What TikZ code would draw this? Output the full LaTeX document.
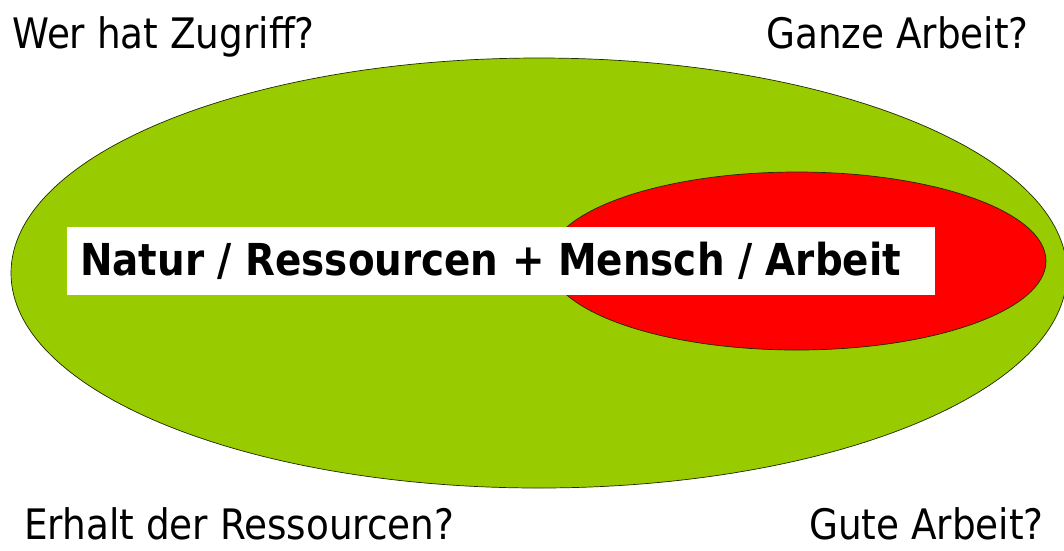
\documentclass[tikz,border=0pt]{standalone}
\usepackage{fontspec}
\setmainfont{DejaVu Sans}
\newfontfamily\corner[FakeStretch=0.89]{DejaVu Sans}
\newfontfamily\mainbold[FakeStretch=0.883]{DejaVu Sans Bold}
\usetikzlibrary{shapes.geometric}
\definecolor{leafgreen}{RGB}{153,204,0}
\definecolor{brightred}{RGB}{255,0,0}
\tikzset{
  blob/.style={ellipse, draw=black!80!leafgreen, line width=0.7pt, inner sep=0pt},
  question/.style={font=\corner\fontsize{42}{46}\selectfont, inner sep=0pt, text=black},
  whitebar/.style={fill=white, draw=none, inner sep=0pt},
  maintext/.style={font=\mainbold\fontsize{44}{48}\selectfont, inner sep=0pt, text=black}
}
\begin{document}
\begin{tikzpicture}[x=1pt,y=-1pt]
\useasboundingbox (0,0) rectangle (1064,550);
\fill[white] (0,0) rectangle (1064,550);
\begin{scope}
\clip (0,0) rectangle (1064,550);
\node[blob, fill=leafgreen, minimum width=1056pt, minimum height=430pt] (outer) at (539,273) {};
\node[blob, fill=brightred, minimum width=498pt, minimum height=178pt] (inner) at (797,261) {};
\end{scope}
\node[whitebar, minimum width=868pt, minimum height=68pt] (bar) at (501,261) {};
\node[maintext, anchor=base west] (label) at (80,275) {Natur / Ressourcen + Mensch / Arbeit};
\node[question, anchor=base west] (q1) at (12,48) {Wer hat Zugriff?};
\node[question, anchor=base east] (q2) at (1029,48) {Ganze Arbeit?};
\node[question, anchor=base west] (q3) at (24,539) {Erhalt der Ressourcen?};
\node[question, anchor=base east] (q4) at (1044,539) {Gute Arbeit?};
\end{tikzpicture}
\end{document}
